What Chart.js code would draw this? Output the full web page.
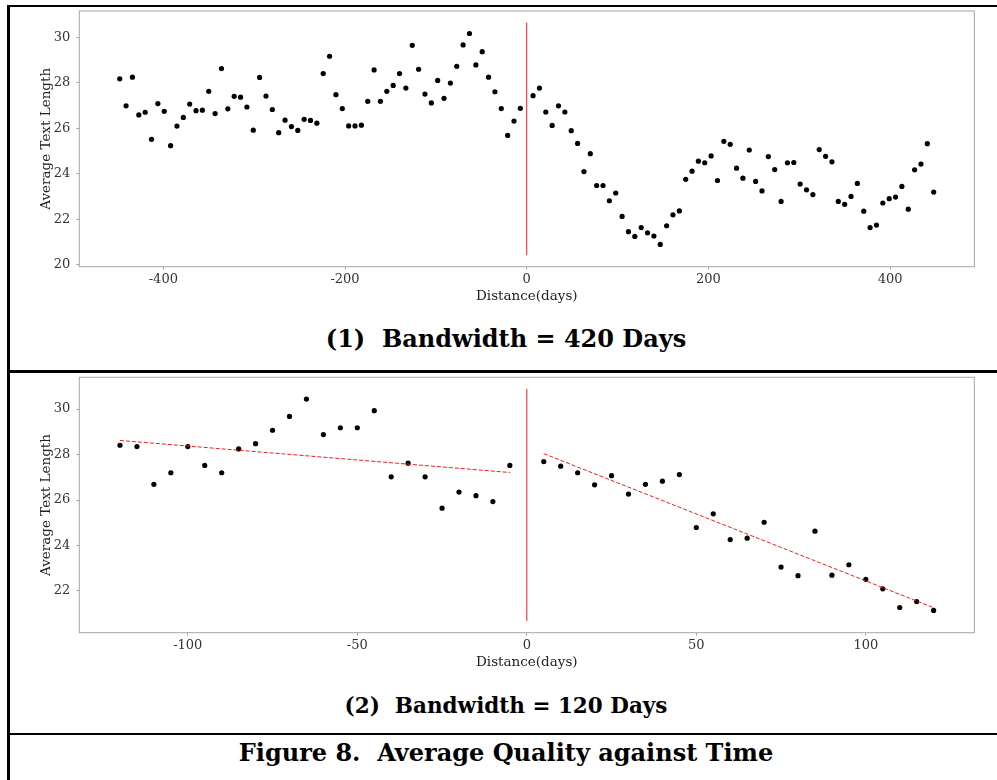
<!DOCTYPE html>
<html>
<head>
<meta charset="utf-8">
<title>Figure 8. Average Quality against Time</title>
<script src="https://cdn.jsdelivr.net/npm/chart.js@4.4.1/dist/chart.umd.min.js"></script>
<style>
  html, body { margin:0; padding:0; background:#fff; }
  #page { position:relative; width:997px; height:780px; overflow:hidden; font-family:"DejaVu Serif", serif; }
  .rule { position:absolute; background:#000; }
  canvas { position:absolute; left:10px; }
  .cap { position:absolute; left:0; width:1012px; text-align:center; font-weight:bold; white-space:pre; color:#000; }
</style>
</head>
<body>
<div id="page">
  <div class="rule" style="left:7px; top:5px; width:990px; height:2px;"></div>
  <div class="rule" style="left:7px; top:5px; width:3px; height:775px;"></div>
  <div class="rule" style="left:7px; top:370px; width:990px; height:3px;"></div>
  <div class="rule" style="left:7px; top:733px; width:990px; height:2px;"></div>

  <canvas id="chart420" width="985" height="300" style="top:7px;"></canvas>
  <div class="cap" style="top:327px; font-size:24px; line-height:24px;">(1)  Bandwidth = 420 Days</div>

  <canvas id="chart120" width="985" height="300" style="top:373px;"></canvas>
  <div class="cap" style="top:694.5px; font-size:21.5px; line-height:22px;">(2)  Bandwidth = 120 Days</div>

  <div class="cap" style="top:741px; font-size:24px; line-height:24px;">Figure 8.  Average Quality against Time</div>
</div>

<script>
// --- bandwidth 420: weekly bins either side of the cutoff ---
const DAYS_420_BEFORE = [-448,-441,-434,-427,-420,-413,-406,-399,-392,-385,-378,-371,-364,-357,-350,-343,
  -336,-329,-322,-315,-308,-301,-294,-287,-280,-273,-266,-259,-252,-245,-238,-231,
  -224,-217,-210,-203,-196,-189,-182,-175,-168,-161,-154,-147,-140,-133,-126,-119,
  -112,-105,-98,-91,-84,-77,-70,-63,-56,-49,-42,-35,-28,-21,-14,-7];
const LEN_420_BEFORE = [28.18,26.99,28.25,26.59,26.71,25.52,27.09,26.75,25.24,26.10,26.48,27.07,26.78,26.80,27.63,26.65,
  28.63,26.86,27.41,27.37,26.94,25.92,28.24,27.42,26.83,25.81,26.36,26.08,25.91,26.40,26.35,26.23,
  28.41,29.17,27.48,26.87,26.11,26.11,26.14,27.19,28.57,27.19,27.63,27.89,28.41,27.77,29.65,28.60,
  27.51,27.12,28.11,27.32,27.99,28.73,29.67,30.17,28.79,29.37,28.25,27.61,26.87,25.69,26.32,26.88];
const DAYS_420_AFTER = [7,14,21,28,35,42,49,56,63,70,77,84,91,98,105,112,
  119,126,133,140,147,154,161,168,175,182,189,196,203,210,217,224,
  231,238,245,252,259,266,273,280,287,294,301,308,315,322,329,336,
  343,350,357,364,371,378,385,392,399,406,413,420,427,434,441,448];
const LEN_420_AFTER = [27.44,27.77,26.72,26.13,26.99,26.72,25.90,25.34,24.10,24.89,23.49,23.49,22.82,23.16,22.13,21.46,
  21.25,21.64,21.41,21.27,20.90,21.72,22.20,22.37,23.76,24.12,24.56,24.49,24.79,23.71,25.43,25.30,
  24.25,23.81,25.05,23.67,23.25,24.76,24.19,22.79,24.49,24.50,23.55,23.30,23.09,25.07,24.77,24.53,
  22.79,22.66,23.01,23.58,22.36,21.64,21.75,22.72,22.91,22.98,23.45,22.45,24.18,24.43,25.33,23.20];
const CUTOFF_420 = [20.43, 30.65];           // red marker at day 0 (y from, y to)
const XTICKS_420 = [-400, -200, 0, 200, 400];
const YTICKS_420 = [20, 22, 24, 26, 28, 30];

// --- bandwidth 120: 5-day bins + linear fits ---
const DAYS_120_BEFORE = [-120,-115,-110,-105,-100,-95,-90,-85,-80,-75,-70,-65,-60,-55,-50,-45,-40,-35,-30,-25,-20,-15,-10,-5];
const LEN_120_BEFORE = [28.41,28.35,26.69,27.20,28.35,27.52,27.20,28.25,28.48,29.07,29.68,30.44,
  28.88,29.18,29.18,29.93,27.02,27.62,27.02,25.64,26.35,26.19,25.93,27.52];
const DAYS_120_AFTER = [5,10,15,20,25,30,35,40,45,50,55,60,65,70,75,80,85,90,95,100,105,110,115,120];
const LEN_120_AFTER = [27.69,27.49,27.20,26.67,27.07,26.26,26.69,26.83,27.12,24.79,25.39,24.26,
  24.32,25.02,23.05,22.67,24.63,22.69,23.15,22.51,22.09,21.27,21.53,21.14];
const FIT_BEFORE = [[-120, 28.62], [-5, 27.21]];
const FIT_AFTER = [[5, 28.04], [120, 21.26]];
const CUTOFF_120 = [20.67, 30.89];
const XTICKS_120 = [-100, -50, 0, 50, 100];
const YTICKS_120 = [22, 24, 26, 28, 30];

(function(){
  const GREY = '#a6a6a6';
  const TICK_FONT = { family: '"DejaVu Serif", serif', size: 13 };
  const TITLE_FONT = { family: '"DejaVu Serif", serif', size: 13.5 };

  function $(id){ return document.getElementById(id); }
  function pts(xs, ys){ return xs.map((x, i) => ({ x: x, y: ys[i] })); }

  // grey panel border around the plot area
  const frame = {
    id: 'frame',
    afterDraw(ch){
      const a = ch.chartArea, c = ch.ctx;
      c.save();
      c.strokeStyle = GREY; c.lineWidth = 1;
      c.strokeRect(a.left, a.top, a.right - a.left, a.bottom - a.top);
      c.restore();
    }
  };

  function dots(data){
    return { data, backgroundColor:'#000', borderColor:'#000', borderWidth:0, pointRadius:2.6, pointHoverRadius:2.6 };
  }
  function segment(data, dashed){
    return { data, showLine:true, borderColor:'#ff1a1a', borderWidth:1, borderDash: dashed ? [4, 2] : [],
             pointRadius:0, pointHoverRadius:0, fill:false };
  }

  // fixed axis boxes so the plot area lands where the figure has it
  function fixX(s){ s.height = 40.3; s.paddingLeft = 0; s.paddingRight = 0; }
  function fixY(s){ s.width = 69.3; s.paddingTop = 0; s.paddingBottom = 0; }

  function draw(id, datasets, xr, yr, xticks, yticks, topPad){
    return new Chart($(id), {
      type: 'scatter',
      data: { datasets },
      plugins: [frame],
      options: {
        responsive: false, animation: false, devicePixelRatio: 1,
        layout: { padding: { top: topPad, right: 20.7, bottom: 0, left: 0 } },
        plugins: { legend: { display:false }, tooltip: { enabled:false } },
        scales: {
          x: {
            type: 'linear', min: xr[0], max: xr[1],
            afterBuildTicks: s => { s.ticks = xticks.map(v => ({ value: v })); },
            afterFit: fixX,
            grid: { drawOnChartArea:false, drawTicks:true, tickLength:3, color:GREY },
            border: { display:false },
            ticks: { font:TICK_FONT, color:'#333', padding:2.5, maxRotation:0, autoSkip:false },
            title: { display:true, text:'Distance(days)', font:TITLE_FONT, color:'#222', padding:{ top:0, bottom:2.9 } }
          },
          y: {
            type: 'linear', min: yr[0], max: yr[1],
            afterBuildTicks: s => { s.ticks = yticks.map(v => ({ value: v })); },
            afterFit: fixY,
            grid: { drawOnChartArea:false, drawTicks:true, tickLength:3, color:GREY },
            border: { display:false },
            ticks: { font:TICK_FONT, color:'#333', padding:6, autoSkip:false },
            title: { display:true, text:'Average Text Length', font:TITLE_FONT, color:'#222', padding:{ top:28.6, bottom:0 } }
          }
        }
      }
    });
  }

  document.addEventListener('DOMContentLoaded', () => {
    draw('chart420', [
      segment([{ x:0, y:CUTOFF_420[0] }, { x:0, y:CUTOFF_420[1] }], false),
      dots(pts(DAYS_420_BEFORE, LEN_420_BEFORE)),
      dots(pts(DAYS_420_AFTER, LEN_420_AFTER))
    ], [-492.5, 492.7], [19.92, 31.16], XTICKS_420, YTICKS_420, 4);

    draw('chart120', [
      segment([{ x:0, y:CUTOFF_120[0] }, { x:0, y:CUTOFF_120[1] }], false),
      segment(FIT_BEFORE.map(p => ({ x:p[0], y:p[1] })), true),
      segment(FIT_AFTER.map(p => ({ x:p[0], y:p[1] })), true),
      dots(pts(DAYS_120_BEFORE, LEN_120_BEFORE)),
      dots(pts(DAYS_120_AFTER, LEN_120_AFTER))
    ], [-132, 132], [20.16, 31.40], XTICKS_120, YTICKS_120, 4.3);
  });
})();
</script>
</body>
</html>
